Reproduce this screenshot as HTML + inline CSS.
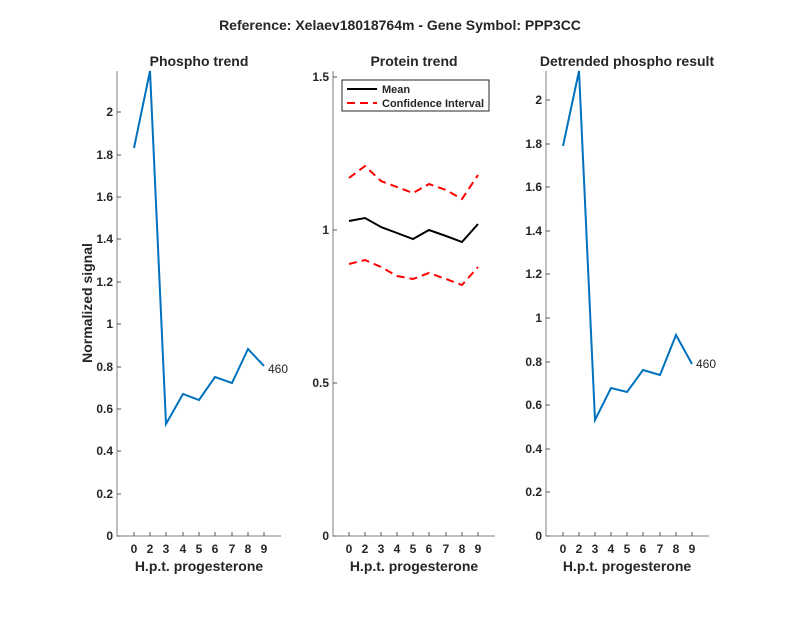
<!DOCTYPE html><html><head><style>body{margin:0;background:#fff}text{font-family:"Liberation Sans",Arial,sans-serif;fill:#262626}</style></head><body>
<svg width="800" height="618" xmlns="http://www.w3.org/2000/svg">
<rect width="800" height="618" fill="#fff"/>
<text x="400" y="30" font-size="14" font-weight="bold" text-anchor="middle">Reference:  Xelaev18018764m - Gene Symbol:  PPP3CC</text>
<g stroke="#7f7f7f" stroke-width="1" fill="none">
<path d="M117,71V536H281"/><path d="M333,71V536H495"/><path d="M546,71V536H709"/>
</g>
<g stroke="#555" stroke-width="1">
<path d="M117,536h4M117,494h4M117,451h4M117,409h4M117,367h4M117,324h4M117,282h4M117,239h4M117,197h4M117,155h4M117,112h4"/>
<path d="M333,536h4M333,383h4M333,230h4M333,77h4"/>
<path d="M546,536h4M546,492h4M546,449h4M546,405h4M546,362h4M546,318h4M546,274h4M546,231h4M546,187h4M546,144h4M546,100h4"/>
<path d="M134,536v-4M150,536v-4M166,536v-4M183,536v-4M199,536v-4M215,536v-4M232,536v-4M248,536v-4M264,536v-4"/>
<path d="M349,536v-4M365,536v-4M381,536v-4M397,536v-4M413,536v-4M429,536v-4M446,536v-4M462,536v-4M478,536v-4"/>
<path d="M563,536v-4M579,536v-4M595,536v-4M611,536v-4M627,536v-4M643,536v-4M660,536v-4M676,536v-4M692,536v-4"/>
</g>
<g font-size="12" font-weight="bold" text-anchor="end">
<text x="113" y="540">0</text><text x="113" y="498">0.2</text><text x="113" y="455">0.4</text><text x="113" y="413">0.6</text><text x="113" y="371">0.8</text><text x="113" y="328">1</text><text x="113" y="286">1.2</text><text x="113" y="243">1.4</text><text x="113" y="201">1.6</text><text x="113" y="159">1.8</text><text x="113" y="116">2</text>
<text x="329" y="540">0</text><text x="329" y="387">0.5</text><text x="329" y="234">1</text><text x="329" y="81">1.5</text>
<text x="542" y="540">0</text><text x="542" y="496">0.2</text><text x="542" y="453">0.4</text><text x="542" y="409">0.6</text><text x="542" y="366">0.8</text><text x="542" y="322">1</text><text x="542" y="278">1.2</text><text x="542" y="235">1.4</text><text x="542" y="191">1.6</text><text x="542" y="148">1.8</text><text x="542" y="104">2</text>
</g>
<g font-size="12" font-weight="bold" text-anchor="middle">
<text x="134" y="553">0</text><text x="150" y="553">2</text><text x="166" y="553">3</text><text x="183" y="553">4</text><text x="199" y="553">5</text><text x="215" y="553">6</text><text x="232" y="553">7</text><text x="248" y="553">8</text><text x="264" y="553">9</text>
<text x="349" y="553">0</text><text x="365" y="553">2</text><text x="381" y="553">3</text><text x="397" y="553">4</text><text x="413" y="553">5</text><text x="429" y="553">6</text><text x="446" y="553">7</text><text x="462" y="553">8</text><text x="478" y="553">9</text>
<text x="563" y="553">0</text><text x="579" y="553">2</text><text x="595" y="553">3</text><text x="611" y="553">4</text><text x="627" y="553">5</text><text x="643" y="553">6</text><text x="660" y="553">7</text><text x="676" y="553">8</text><text x="692" y="553">9</text>
</g>
<g font-size="14" font-weight="bold" text-anchor="middle">
<text x="199" y="571">H.p.t. progesterone</text><text x="414" y="571">H.p.t. progesterone</text><text x="627" y="571">H.p.t. progesterone</text>
<text x="199" y="66">Phospho trend</text><text x="414" y="66">Protein trend</text><text x="627" y="66">Detrended phospho result</text>
<text transform="translate(92,303) rotate(-90)">Normalized signal</text>
</g>
<polyline fill="none" stroke="#0072bd" stroke-width="2" points="134,148 150,71 166,424 183,394 199,400 215,377 232,383 248,349 264,366"/>
<polyline fill="none" stroke="#0072bd" stroke-width="2" points="563,146 579,71 595,420 611,388 627,392 643,370 660,375 676,335 692,364"/>
<text x="268" y="373" font-size="12">460</text><text x="696" y="368" font-size="12">460</text>
<polyline fill="none" stroke="#000" stroke-width="2" points="349,221 365,218 381,227 397,233 413,239 429,230 446,236 462,242 478,224"/>
<polyline fill="none" stroke="#f00" stroke-width="2" stroke-dasharray="8,5" points="349,178 365,166 381,181 397,187 413,193 429,184 446,190 462,199 478,175"/>
<polyline fill="none" stroke="#f00" stroke-width="2" stroke-dasharray="8,5" points="349,264 365,260 381,267 397,276 413,279 429,273 446,279 462,285 478,267"/>
<rect x="342" y="80" width="147" height="31" fill="#fff" stroke="#262626" stroke-width="1"/>
<line x1="347" y1="89" x2="377" y2="89" stroke="#000" stroke-width="2"/>
<line x1="347" y1="103" x2="377" y2="103" stroke="#f00" stroke-width="2" stroke-dasharray="8,5"/>
<text x="382" y="93" font-size="11" font-weight="bold">Mean</text>
<text x="382" y="107" font-size="11" font-weight="bold">Confidence Interval</text>
</svg></body></html>
